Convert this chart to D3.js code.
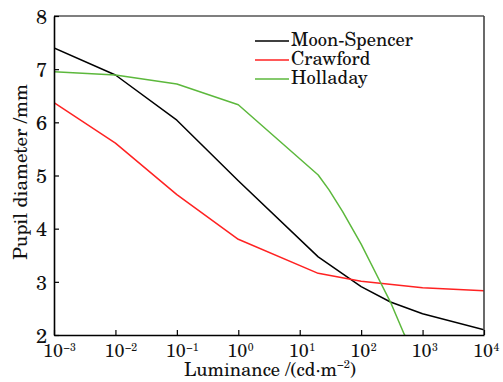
<!DOCTYPE html>
<html>
<head>
<meta charset="utf-8">
<script src="https://cdn.jsdelivr.net/npm/d3@7"></script>
<style>
  html, body { margin: 0; padding: 0; background: #fff; }
  svg { display: block; }
</style>
</head>
<body>
<div id="chart"></div>
<script>
// luminance (cd/m^2) and pupil diameter (mm)
const moonLum = [0.001, 0.01, 0.1, 1, 20, 100, 300, 1000, 10000];
const moonDia = [7.40, 6.89, 6.04, 4.90, 3.47, 2.91, 2.62, 2.40, 2.10];

const crawLum = [0.001, 0.01, 0.1, 1, 20, 100, 1000, 10000];
const crawDia = [6.37, 5.61, 4.64, 3.80, 3.16, 3.01, 2.89, 2.83];

const hollLum = [0.001, 0.01, 0.1, 1, 20, 30, 50, 100, 200, 300, 500, 600];
const hollDia = [6.95, 6.89, 6.72, 6.33, 5.01, 4.73, 4.32, 3.71, 3.02, 2.62, 2.02, 1.85];

const seriesNames = ['Moon-Spencer', 'Crawford', 'Holladay'];
const seriesColors = ['#000000', '#ff2222', '#5cb83c'];

const xTickExp = [-3, -2, -1, 0, 1, 2, 3, 4];
const yTicks = [2, 3, 4, 5, 6, 7, 8];

const FONT = '"TeX Gyre Schola", "DejaVu Serif", serif';
const font = (sel, size) => sel.attr('style', `font-family:${FONT}; font-size:${size}px; fill:#111`);

const W = 503, H = 382;
const margin = { left: 54, right: 19, top: 16, bottom: 47 };
const iw = W - margin.left - margin.right;
const ih = H - margin.top - margin.bottom;

const series = [
  { name: seriesNames[0], color: seriesColors[0], pts: moonLum.map((l, i) => [l, moonDia[i]]) },
  { name: seriesNames[1], color: seriesColors[1], pts: crawLum.map((l, i) => [l, crawDia[i]]) },
  { name: seriesNames[2], color: seriesColors[2], pts: hollLum.map((l, i) => [l, hollDia[i]]) },
];

const svg = d3.select('#chart').append('svg')
  .attr('width', W).attr('height', H);

const g = svg.append('g')
  .attr('transform', `translate(${margin.left},${margin.top})`);

const x = d3.scaleLog().domain([1e-3, 1e4]).range([0, iw]);
const y = d3.scaleLinear().domain([2, 8]).range([ih, 0]);

g.append('clipPath').attr('id', 'plotclip')
  .append('rect').attr('width', iw).attr('height', ih);

// lines
const line = d3.line().x(d => x(d[0])).y(d => y(d[1]));
g.append('g').attr('clip-path', 'url(#plotclip)')
  .selectAll('path').data(series).enter()
  .append('path')
  .attr('d', d => line(d.pts))
  .attr('fill', 'none')
  .attr('stroke', d => d.color)
  .attr('stroke-width', 1.5)
  .attr('stroke-linejoin', 'round');

// frame: top/right grey, left/bottom black
g.append('line').attr('x1', 0).attr('x2', iw).attr('y1', 0).attr('y2', 0)
  .attr('stroke', '#555').attr('stroke-width', 1.6);
g.append('line').attr('x1', iw).attr('x2', iw).attr('y1', 0).attr('y2', ih)
  .attr('stroke', '#444').attr('stroke-width', 1.6);

// bottom axis, ticks pointing inward
const xAxis = g.append('g').attr('transform', `translate(0,${ih})`)
  .call(d3.axisBottom(x).tickValues(xTickExp.map(e => Math.pow(10, e)))
    .tickSizeInner(-5).tickSizeOuter(0).tickFormat(''));
xAxis.select('.domain').attr('stroke', '#000').attr('stroke-width', 1.6);
xAxis.selectAll('.tick line').attr('stroke', '#000').attr('stroke-width', 1.2);

// x tick labels: "10" centred on tick, exponent after it
xTickExp.forEach(e => {
  const px = x(Math.pow(10, e));
  const base = g.append('text')
    .attr('x', px - 1).attr('y', ih + 22)
    .attr('text-anchor', 'middle')
    .text('10');
  font(base, 18);
  const half = base.node().getComputedTextLength() / 2;
  const sup = g.append('text')
    .attr('x', px - 1 + half + 0.5).attr('y', ih + 16)
    .attr('text-anchor', 'start')
    .text(e < 0 ? '\u2212' + (-e) : String(e));
  font(sup, 10.5);
});

// left axis
const yAxis = g.append('g')
  .call(d3.axisLeft(y).tickValues(yTicks).tickFormat(d3.format('d'))
    .tickSizeInner(-5).tickSizeOuter(0).tickPadding(7));
yAxis.select('.domain').attr('stroke', '#000').attr('stroke-width', 1.6);
yAxis.selectAll('.tick line').attr('stroke', '#000').attr('stroke-width', 1.2);
font(yAxis.selectAll('.tick text').attr('dy', '0.36em'), 20);

// axis titles
const xt = svg.append('text')
  .attr('x', 270).attr('y', 376)
  .attr('text-anchor', 'middle');
font(xt, 18.5);
xt.append('tspan').text('Luminance /(cd\u00b7m');
xt.append('tspan').attr('dy', -8).style('font-size', '11px').text('\u22122');
xt.append('tspan').attr('dy', 8).text(')');

const yt = svg.append('text')
  .attr('transform', 'translate(27,172) rotate(-90)')
  .attr('text-anchor', 'middle')
  .text('Pupil diameter /mm');
font(yt, 19);

// legend
const legend = svg.append('g').attr('transform', 'translate(255,41)');
series.forEach((s, i) => {
  const row = legend.append('g').attr('transform', `translate(0,${i * 19})`);
  row.append('line').attr('x1', 0).attr('x2', 34).attr('y1', 0).attr('y2', 0)
    .attr('stroke', s.color).attr('stroke-width', 1.5);
  font(row.append('text').attr('x', 36).attr('y', 5.4).text(s.name), 18.5);
});
</script>
</body>
</html>
